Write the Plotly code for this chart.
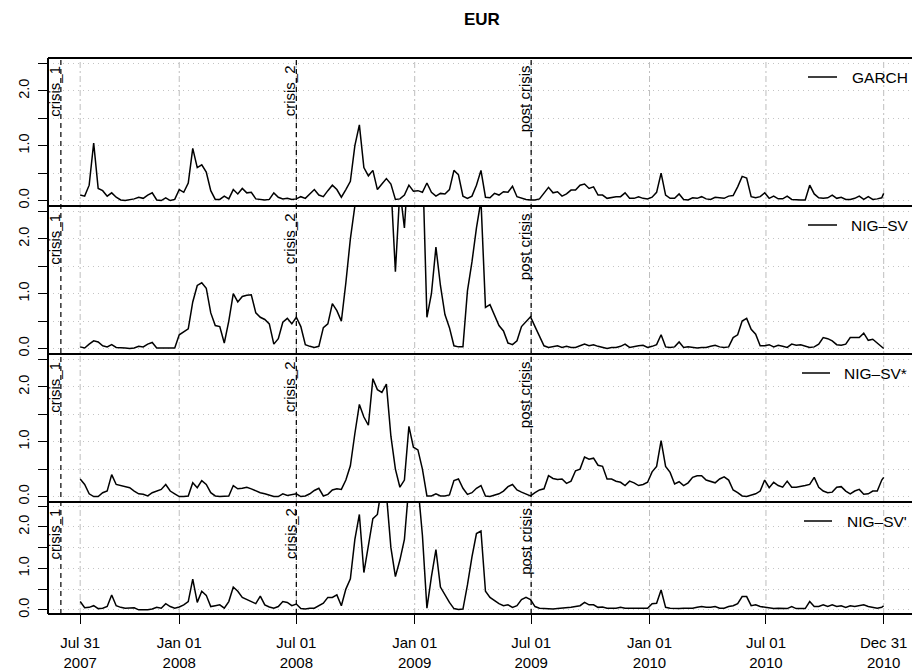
import pandas as pd
import plotly.graph_objects as go

W, H = 912, 671

# ---------------- data ----------------
dates = list(pd.date_range("2007-07-31", periods=179, freq="7D")) + [pd.Timestamp("2010-12-31")]

garch = [0.10, 0.08, 0.28, 1.05, 0.22, 0.18, 0.08, 0.14, 0.06, 0.01,
         0.00, 0.01, 0.03, 0.06, 0.04, 0.10, 0.14, 0.01, 0.00, 0.05,
         0.00, 0.02, 0.20, 0.15, 0.32, 0.95, 0.60, 0.65, 0.52, 0.18,
         0.02, 0.02, 0.08, 0.03, 0.20, 0.12, 0.22, 0.14, 0.15, 0.03,
         0.02, 0.01, 0.02, 0.14, 0.06, 0.03, 0.04, 0.02, 0.03, 0.07,
         0.04, 0.13, 0.20, 0.10, 0.07, 0.18, 0.28, 0.20, 0.06, 0.20,
         0.35, 1.00, 1.38, 0.60, 0.45, 0.55, 0.20, 0.30, 0.40, 0.30,
         0.02, 0.03, 0.10, 0.28, 0.17, 0.18, 0.15, 0.32, 0.15, 0.08,
         0.13, 0.12, 0.20, 0.55, 0.47, 0.08, 0.04, 0.08, 0.28, 0.55,
         0.06, 0.05, 0.13, 0.10, 0.16, 0.15, 0.26, 0.07, 0.04, 0.02,
         0.01, 0.01, 0.03, 0.13, 0.24, 0.14, 0.16, 0.08, 0.12, 0.19,
         0.19, 0.28, 0.30, 0.22, 0.25, 0.10, 0.10, 0.04, 0.06, 0.07,
         0.07, 0.14, 0.04, 0.04, 0.07, 0.04, 0.03, 0.06, 0.15, 0.50,
         0.10, 0.04, 0.04, 0.12, 0.02, 0.01, 0.05, 0.04, 0.07, 0.03,
         0.02, 0.06, 0.05, 0.04, 0.08, 0.09, 0.25, 0.44, 0.41, 0.07,
         0.05, 0.07, 0.14, 0.04, 0.08, 0.03, 0.03, 0.08, 0.02, 0.01,
         0.01, 0.01, 0.28, 0.12, 0.05, 0.04, 0.05, 0.10, 0.04, 0.06,
         0.02, 0.02, 0.04, 0.08, 0.02, 0.07, 0.02, 0.03, 0.05,
         0.13]

nig_sv = [0.03, 0.01, 0.08, 0.14, 0.12, 0.05, 0.03, 0.07, 0.02, 0.02,
          0.01, 0.00, 0.01, 0.04, 0.03, 0.08, 0.11, 0.01, 0.01, 0.02,
          0.02, 0.01, 0.25, 0.30, 0.36, 0.85, 1.15, 1.20, 1.10, 0.65,
          0.42, 0.40, 0.10, 0.50, 1.00, 0.85, 0.95, 0.97, 0.98, 0.65,
          0.57, 0.53, 0.45, 0.08, 0.18, 0.48, 0.55, 0.45, 0.57, 0.40,
          0.07, 0.04, 0.02, 0.04, 0.38, 0.45, 0.82, 0.69, 0.50, 1.20,
          2.00, 2.60, 3.20, 3.50, 3.50, 3.50, 3.50, 3.50, 3.50, 3.00,
          1.40, 2.90, 2.20, 3.50, 3.50, 3.50, 3.50, 0.57, 1.00, 1.85,
          1.15, 0.62, 0.38, 0.05, 0.03, 0.03, 1.05, 1.58, 2.20, 2.70,
          0.75, 0.80, 0.60, 0.42, 0.32, 0.10, 0.07, 0.14, 0.40, 0.50,
          0.58, 0.40, 0.22, 0.05, 0.02, 0.03, 0.05, 0.02, 0.04, 0.02,
          0.02, 0.05, 0.08, 0.05, 0.07, 0.04, 0.02, 0.00, 0.02, 0.02,
          0.04, 0.08, 0.02, 0.04, 0.05, 0.06, 0.02, 0.04, 0.07, 0.25,
          0.03, 0.02, 0.03, 0.12, 0.02, 0.03, 0.02, 0.01, 0.02, 0.02,
          0.04, 0.06, 0.03, 0.02, 0.03, 0.20, 0.25, 0.50, 0.55, 0.35,
          0.26, 0.05, 0.05, 0.07, 0.03, 0.06, 0.04, 0.02, 0.08, 0.06,
          0.07, 0.05, 0.02, 0.03, 0.08, 0.20, 0.18, 0.14, 0.07, 0.06,
          0.08, 0.20, 0.20, 0.20, 0.28, 0.15, 0.17, 0.10, 0.04,
          0.00]

nig_sv_star = [0.32, 0.22, 0.05, 0.00, 0.00, 0.07, 0.10, 0.40, 0.22, 0.20,
               0.17, 0.16, 0.10, 0.05, 0.04, 0.01, 0.07, 0.10, 0.13, 0.22,
               0.10, 0.05, 0.00, 0.00, 0.01, 0.25, 0.16, 0.29, 0.22, 0.07,
               0.01, 0.00, 0.01, 0.01, 0.20, 0.14, 0.15, 0.17, 0.14, 0.10,
               0.07, 0.05, 0.03, 0.00, 0.00, 0.05, 0.02, 0.04, 0.05, 0.00,
               0.01, 0.05, 0.11, 0.15, 0.01, 0.04, 0.12, 0.14, 0.13, 0.30,
               0.56, 1.15, 1.68, 1.45, 1.30, 2.15, 1.95, 1.90, 2.05, 1.10,
               0.50, 0.17, 0.30, 1.28, 0.90, 0.85, 0.50, 0.01, 0.01, 0.05,
               0.01, 0.01, 0.03, 0.29, 0.32, 0.15, 0.04, 0.07, 0.15, 0.20,
               0.01, 0.00, 0.03, 0.05, 0.10, 0.18, 0.22, 0.12, 0.08, 0.04,
               0.01, 0.07, 0.12, 0.14, 0.38, 0.33, 0.31, 0.32, 0.24, 0.28,
               0.47, 0.50, 0.72, 0.68, 0.70, 0.57, 0.55, 0.32, 0.32, 0.28,
               0.26, 0.20, 0.28, 0.25, 0.20, 0.22, 0.26, 0.45, 0.55, 1.02,
               0.55, 0.44, 0.23, 0.27, 0.20, 0.25, 0.35, 0.38, 0.38, 0.30,
               0.28, 0.25, 0.32, 0.36, 0.30, 0.12, 0.07, 0.01, 0.00, 0.03,
               0.05, 0.10, 0.30, 0.16, 0.26, 0.20, 0.17, 0.28, 0.17, 0.17,
               0.18, 0.20, 0.22, 0.35, 0.17, 0.10, 0.07, 0.08, 0.17, 0.18,
               0.10, 0.05, 0.10, 0.13, 0.04, 0.05, 0.10, 0.10, 0.30,
               0.35]

nig_sv_prime = [0.20, 0.05, 0.06, 0.10, 0.03, 0.04, 0.08, 0.36, 0.10, 0.06,
                0.04, 0.04, 0.05, 0.00, 0.00, 0.00, 0.02, 0.06, 0.04, 0.15,
                0.08, 0.04, 0.07, 0.12, 0.20, 0.74, 0.18, 0.45, 0.35, 0.08,
                0.10, 0.12, 0.04, 0.20, 0.55, 0.45, 0.30, 0.25, 0.20, 0.15,
                0.33, 0.12, 0.07, 0.04, 0.08, 0.20, 0.18, 0.10, 0.14, 0.03,
                0.02, 0.04, 0.04, 0.10, 0.16, 0.30, 0.30, 0.36, 0.10, 0.50,
                0.75, 1.70, 2.30, 0.90, 1.50, 2.20, 2.30, 3.00, 2.80, 1.50,
                0.80, 1.20, 1.70, 3.00, 3.00, 3.00, 1.80, 0.04, 0.80, 1.45,
                0.55, 0.35, 0.18, 0.03, 0.01, 0.02, 0.60, 1.28, 1.84, 1.90,
                0.45, 0.30, 0.22, 0.15, 0.10, 0.12, 0.06, 0.10, 0.25, 0.30,
                0.25, 0.08, 0.04, 0.03, 0.02, 0.02, 0.03, 0.04, 0.04, 0.06,
                0.08, 0.10, 0.18, 0.12, 0.12, 0.06, 0.07, 0.04, 0.04, 0.04,
                0.06, 0.04, 0.04, 0.04, 0.04, 0.04, 0.04, 0.15, 0.16, 0.48,
                0.06, 0.04, 0.03, 0.03, 0.04, 0.04, 0.04, 0.06, 0.08, 0.06,
                0.06, 0.08, 0.04, 0.04, 0.08, 0.10, 0.15, 0.32, 0.32, 0.10,
                0.12, 0.08, 0.06, 0.04, 0.03, 0.04, 0.03, 0.03, 0.08, 0.03,
                0.03, 0.03, 0.20, 0.08, 0.08, 0.12, 0.08, 0.12, 0.08, 0.10,
                0.06, 0.10, 0.08, 0.10, 0.12, 0.08, 0.06, 0.04, 0.06,
                0.10]

series_names = ["GARCH", "NIG\u2013SV", "NIG\u2013SV*", "NIG\u2013SV'"]
series_values = [garch, nig_sv, nig_sv_star, nig_sv_prime]

tick_dates = ["2007-07-31", "2008-01-01", "2008-07-01", "2009-01-01",
              "2009-07-01", "2010-01-01", "2010-07-01", "2010-12-31"]
tick_labels = ["Jul 31<br>2007", "Jan 01<br>2008", "Jul 01<br>2008", "Jan 01<br>2009",
               "Jul 01<br>2009", "Jan 01<br>2010", "Jul 01<br>2010", "Dec 31<br>2010"]

event_dates = ["2007-07-01", "2008-07-01", "2009-07-01"]
event_labels = ["crisis_1", "crisis_2", "post crisis"]

y_tickvals = [0, 0.5, 1.0, 1.5, 2.0, 2.5]
y_ticktext = ["0.0", "", "1.0", "", "2.0", ""]

title_text = "EUR"

# ---------------- layout helpers ----------------
FONT = "Liberation Sans, Arial, Helvetica, sans-serif"
def fx(p):
    return p / W
def fy(p):
    return 1 - p / H

panel_top = [58, 206, 354, 502]
panel_bot = [206, 354, 502, 614]
x_left, x_right = 48, 912
x_range = ["2007-06-11", "2011-02-13"]

legend_line = [(808, 837), (808, 837), (802, 830), (804, 832)]
legend_text_x = [850, 849, 842, 845]

fig = go.Figure()
layout = dict(
    width=W, height=H,
    margin=dict(l=0, r=0, t=0, b=0),
    paper_bgcolor="white", plot_bgcolor="white",
    showlegend=False,
    font=dict(family=FONT, color="black"),
)

shapes = []
annotations = []

for i, (name, vals) in enumerate(zip(series_names, series_values)):
    k = "" if i == 0 else str(i + 1)
    fig.add_trace(go.Scatter(x=dates, y=vals, mode="lines",
                             line=dict(color="black", width=1.5),
                             xaxis="x" + k, yaxis="y" + k, name=name))
    last = (i == 3)
    layout["xaxis" + k] = dict(
        domain=[fx(x_left), fx(x_right)], range=x_range, type="date",
        anchor="y" + k, showgrid=False, zeroline=False, showline=False,
        tickmode="array", tickvals=tick_dates,
        ticktext=tick_labels if last else [""] * len(tick_dates),
        showticklabels=last, ticks="outside" if last else "",
        ticklen=9, tickwidth=1, tickcolor="black",
        tickfont=dict(size=15, family=FONT, color="black"),
        ticklabelstandoff=6, automargin=False,
    )
    layout["yaxis" + k] = dict(
        domain=[fy(panel_bot[i]), fy(panel_top[i])], range=[-0.1, 2.6],
        anchor="x" + k, zeroline=False, showline=False,
        tickmode="array", tickvals=y_tickvals, ticktext=y_ticktext,
        ticks="outside", ticklen=9, tickwidth=1, tickcolor="black",
        tickangle=-90, tickfont=dict(size=14.5, family=FONT, color="black"),
        ticklabelstandoff=3,
        showgrid=True, gridcolor="#c4c4c4", gridwidth=1, griddash="1px,4px",
        automargin=False,
    )
    # event labels
    for d, lab in zip(event_dates, event_labels):
        annotations.append(dict(
            x=d, y=2.5, xref="x" + k, yref="y" + k, text=lab, textangle=-90,
            xanchor="right", yanchor="top", showarrow=False, xshift=4.5,
            font=dict(size=15, family=FONT, color="black")))
    # legend
    ly = panel_top[i] + 19
    shapes.append(dict(type="line", xref="paper", yref="paper",
                       x0=fx(legend_line[i][0]), x1=fx(legend_line[i][1]),
                       y0=fy(ly), y1=fy(ly), line=dict(color="black", width=1.5)))
    annotations.append(dict(x=fx(legend_text_x[i]), y=fy(ly), xref="paper", yref="paper",
                            text=name, xanchor="left", yanchor="middle", showarrow=False,
                            font=dict(size=15.5, family=FONT, color="black")))

# vertical grid lines (gray) over all panels
for d in tick_dates:
    shapes.append(dict(type="line", xref="x", yref="paper", x0=d, x1=d,
                       y0=fy(panel_bot[3]), y1=fy(panel_top[0]), layer="below",
                       line=dict(color="#bebebe", width=1, dash="6px,3px,2px,3px")))
# event lines (black dashed)
for d in event_dates:
    shapes.append(dict(type="line", xref="x", yref="paper", x0=d, x1=d,
                       y0=fy(panel_bot[3]), y1=fy(panel_top[0]), layer="below",
                       line=dict(color="black", width=1.2, dash="5px,4px")))
# panel borders
for p in [58, 206, 354, 502, 614]:
    shapes.append(dict(type="line", xref="paper", yref="paper",
                       x0=fx(x_left), x1=1.0, y0=fy(p), y1=fy(p),
                       line=dict(color="black", width=2)))
shapes.append(dict(type="line", xref="paper", yref="paper",
                   x0=fx(x_left), x1=fx(x_left), y0=fy(614), y1=fy(58),
                   line=dict(color="black", width=2)))

annotations.append(dict(x=fx(482), y=fy(20), xref="paper", yref="paper",
                        text="<b>" + title_text + "</b>", showarrow=False,
                        xanchor="center", yanchor="middle",
                        font=dict(size=17, family=FONT, color="black")))

layout["shapes"] = shapes
layout["annotations"] = annotations
fig.update_layout(**layout)
fig.write_html("out.html")
